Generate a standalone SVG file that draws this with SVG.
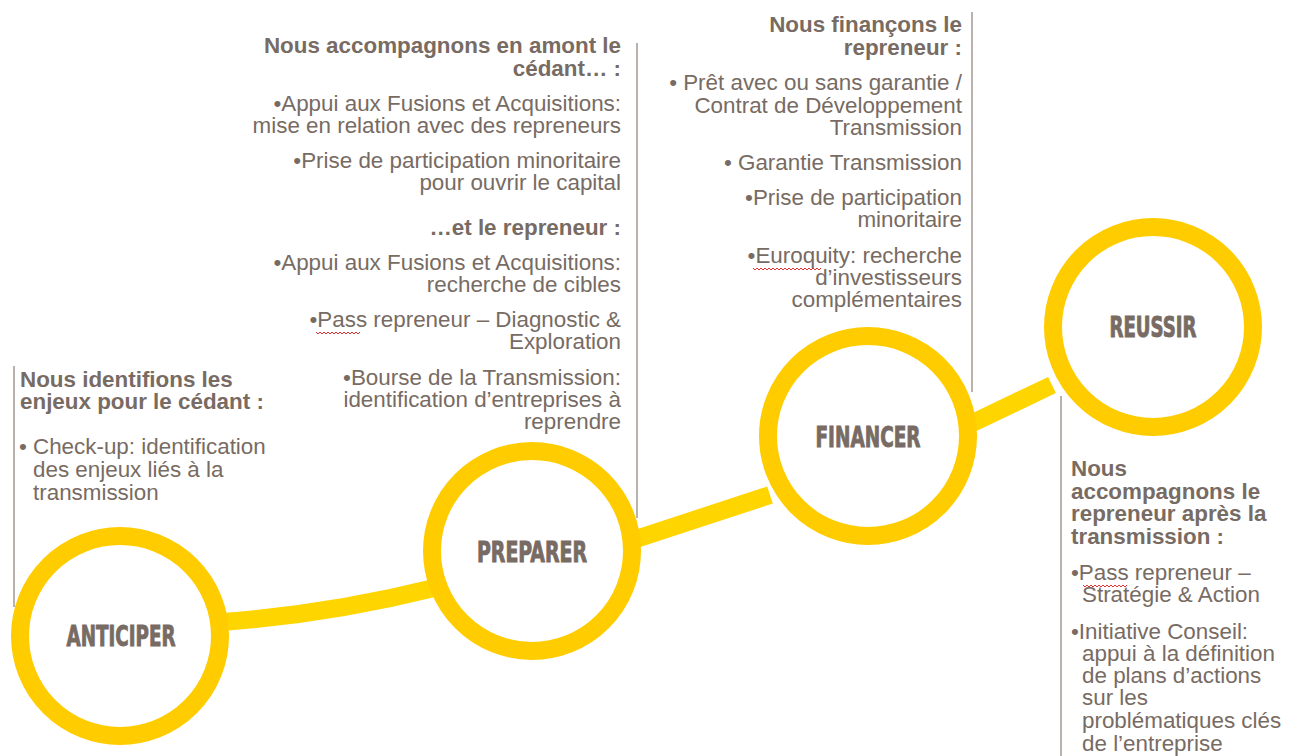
<svg xmlns="http://www.w3.org/2000/svg" width="1294" height="756" viewBox="0 0 1294 756">
<style>
.t{font-family:"Liberation Sans",Arial,sans-serif;font-size:22.4px;fill:#776B63}
.b{font-weight:bold}
.e{text-anchor:end}
.lab{font-family:"Liberation Sans Narrow","DejaVu Sans Condensed","Liberation Sans",sans-serif;font-weight:bold;font-size:29px;fill:#776B63;stroke:#776B63;stroke-width:0.9;text-anchor:middle}
.ring{fill:#FFFFFF;stroke:#FFCC00;stroke-width:18}
.conn{fill:none;stroke:#FFD500;stroke-width:18}
.vl{stroke:#8A7F78;stroke-width:1.2}
.sp{fill:none;stroke:#E03030;stroke-width:1}
</style>
<rect width="1294" height="756" fill="#FFFFFF"/>
<g id="connectors">
<path class="conn" d="M222 622 Q330 614 434 588"/>
<line class="conn" x1="636" y1="539" x2="770" y2="495"/>
<line class="conn" x1="962" y1="428" x2="1052" y2="385"/>
</g>
<g id="dividers">
<line class="vl" x1="14" y1="366" x2="14" y2="607"/>
<line class="vl" x1="637" y1="43" x2="637" y2="518"/>
<line class="vl" x1="972" y1="12" x2="972" y2="392"/>
<line class="vl" x1="1061" y1="396" x2="1061" y2="756"/>
</g>
<g id="anticiper">
<circle class="ring" cx="120" cy="636" r="100"/>
<text class="lab" x="121" y="646" textLength="109" lengthAdjust="spacingAndGlyphs">ANTICIPER</text>
</g>
<g id="preparer">
<circle class="ring" cx="532" cy="551" r="100"/>
<text class="lab" x="532" y="562" textLength="110" lengthAdjust="spacingAndGlyphs">PREPARER</text>
</g>
<g id="financer">
<circle class="ring" cx="868" cy="436" r="100"/>
<text class="lab" x="868" y="447" textLength="105" lengthAdjust="spacingAndGlyphs">FINANCER</text>
</g>
<g id="reussir">
<circle class="ring" cx="1153" cy="327" r="100"/>
<text class="lab" x="1153" y="337" textLength="87" lengthAdjust="spacingAndGlyphs">REUSSIR</text>
</g>
<g id="text-anticiper">
<text class="t b" x="20" y="387">Nous identifions les</text>
<text class="t b" x="20" y="409">enjeux pour le cédant :</text>
<text class="t" x="19" y="454">•</text>
<text class="t" x="33" y="454">Check-up: identification</text>
<text class="t" x="33" y="477">des enjeux liés à la</text>
<text class="t" x="33" y="500">transmission</text>
</g>
<g id="text-preparer">
<text class="t b e" x="621" y="53">Nous accompagnons en amont le</text>
<text class="t b e" x="621" y="76">cédant… :</text>
<text class="t e" x="621" y="111">•Appui aux Fusions et Acquisitions:</text>
<text class="t e" x="621" y="133">mise en relation avec des repreneurs</text>
<text class="t e" x="621" y="168">•Prise de participation minoritaire</text>
<text class="t e" x="621" y="190">pour ouvrir le capital</text>
<text class="t b e" x="621" y="235">…et le repreneur :</text>
<text class="t e" x="621" y="270">•Appui aux Fusions et Acquisitions:</text>
<text class="t e" x="621" y="292">recherche de cibles</text>
<text class="t e" x="621" y="327">•Pass repreneur – Diagnostic &amp;</text>
<text class="t e" x="621" y="349">Exploration</text>
<text class="t e" x="621" y="385">•Bourse de la Transmission:</text>
<text class="t e" x="621" y="407">identification d’entreprises à</text>
<text class="t e" x="621" y="429">reprendre</text>
<path class="sp" d="M316 332 l2 2 l2 -2 l2 2 l2 -2 l2 2 l2 -2 l2 2 l2 -2 l2 2 l2 -2 l2 2 l2 -2 l2 2 l2 -2 l2 2 l2 -2 l2 2 l2 -2 l2 2 l2 -2 l2 2 l2 -2"/>
</g>
<g id="text-financer">
<text class="t b e" x="962" y="32">Nous finançons le</text>
<text class="t b e" x="962" y="55">repreneur :</text>
<text class="t e" x="962" y="90">• Prêt avec ou sans garantie /</text>
<text class="t e" x="962" y="113">Contrat de Développement</text>
<text class="t e" x="962" y="135">Transmission</text>
<text class="t e" x="962" y="170">• Garantie Transmission</text>
<text class="t e" x="962" y="205">•Prise de participation</text>
<text class="t e" x="962" y="227">minoritaire</text>
<text class="t e" x="962" y="263">•Euroquity: recherche</text>
<text class="t e" x="962" y="285">d’investisseurs</text>
<text class="t e" x="962" y="307">complémentaires</text>
<path class="sp" d="M753 268 l2 2 l2 -2 l2 2 l2 -2 l2 2 l2 -2 l2 2 l2 -2 l2 2 l2 -2 l2 2 l2 -2 l2 2 l2 -2 l2 2 l2 -2 l2 2 l2 -2 l2 2 l2 -2 l2 2 l2 -2 l2 2 l2 -2 l2 2 l2 -2 l2 2 l2 -2 l2 2 l2 -2 l2 2 l2 -2 l2 2 l2 -2"/>
</g>
<g id="text-reussir">
<text class="t b" x="1071" y="476">Nous</text>
<text class="t b" x="1071" y="499">accompagnons le</text>
<text class="t b" x="1071" y="521">repreneur après la</text>
<text class="t b" x="1071" y="544">transmission :</text>
<text class="t" x="1071" y="580">•Pass repreneur –</text>
<text class="t" x="1082" y="602">Stratégie &amp; Action</text>
<text class="t" x="1071" y="639">•Initiative Conseil:</text>
<text class="t" x="1082" y="661">appui à la définition</text>
<text class="t" x="1082" y="683">de plans d’actions</text>
<text class="t" x="1082" y="705">sur les</text>
<text class="t" x="1082" y="728">problématiques clés</text>
<text class="t" x="1082" y="751">de l’entreprise</text>
<path class="sp" d="M1083 585 l2 2 l2 -2 l2 2 l2 -2 l2 2 l2 -2 l2 2 l2 -2 l2 2 l2 -2 l2 2 l2 -2 l2 2 l2 -2 l2 2 l2 -2 l2 2 l2 -2 l2 2 l2 -2 l2 2 l2 -2"/>
</g>
</svg>
